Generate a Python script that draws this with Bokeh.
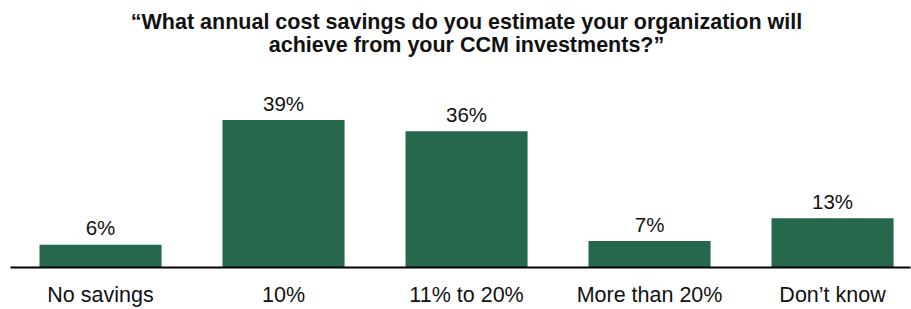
from bokeh.plotting import figure
from bokeh.models import ColumnDataSource, Range1d, Label, FixedTicker
from bokeh.embed import file_html
from bokeh.resources import INLINE
from bokeh.core.properties import value

categories = ["No savings", "10%", "11% to 20%", "More than 20%", "Don\u2019t know"]
shares = [6, 39, 36, 7, 13]
value_labels = ["6%", "39%", "36%", "7%", "13%"]
title_lines = ["\u201cWhat annual cost savings do you estimate your organization will",
               "achieve from your CCM investments?\u201d"]

BAR = "#25684C"
FONT = "Liberation Sans"

xs = list(range(len(categories)))
src = ColumnDataSource(dict(x=xs, share=shares, lab=value_labels))

p = figure(width=911, height=309, output_backend="svg", toolbar_location=None,
           x_range=Range1d(-0.492, 4.426), y_range=Range1d(0, 70.6),
           min_border_left=10, min_border_right=1, min_border_top=0, min_border_bottom=42)
p.outline_line_color = None
p.background_fill_color = "white"
p.border_fill_color = "white"
p.grid.visible = False
p.yaxis.visible = False

p.vbar(x="x", top="share", width=0.667, bottom=0, source=src, fill_color=BAR, line_color=None)
p.text(x="x", y="share", text="lab", source=src, text_align="center", text_baseline="alphabetic",
       y_offset=-17, text_font=value(FONT), text_font_size="20.5px", text_color="#111111")

ax = p.xaxis[0]
ax.ticker = FixedTicker(ticks=xs)
ax.major_label_overrides = {i: c for i, c in enumerate(categories)}
ax.axis_line_color = "black"
ax.axis_line_width = 2
ax.major_tick_line_color = None
ax.minor_tick_line_color = None
ax.major_tick_out = 0
ax.major_tick_in = 0
ax.major_label_standoff = 15
ax.major_label_text_font = FONT
ax.major_label_text_font_size = "21.5px"
ax.major_label_text_color = "#111111"

for line, yy in zip(title_lines, [246, 222.5]):
    p.add_layout(Label(x=456, y=yy, x_units="screen", y_units="screen", text=line,
                       text_align="center", text_baseline="alphabetic",
                       text_font=FONT, text_font_style="bold", text_font_size="21.5px",
                       text_color="#111111"))

open("out.html", "w").write(file_html(p, INLINE))
